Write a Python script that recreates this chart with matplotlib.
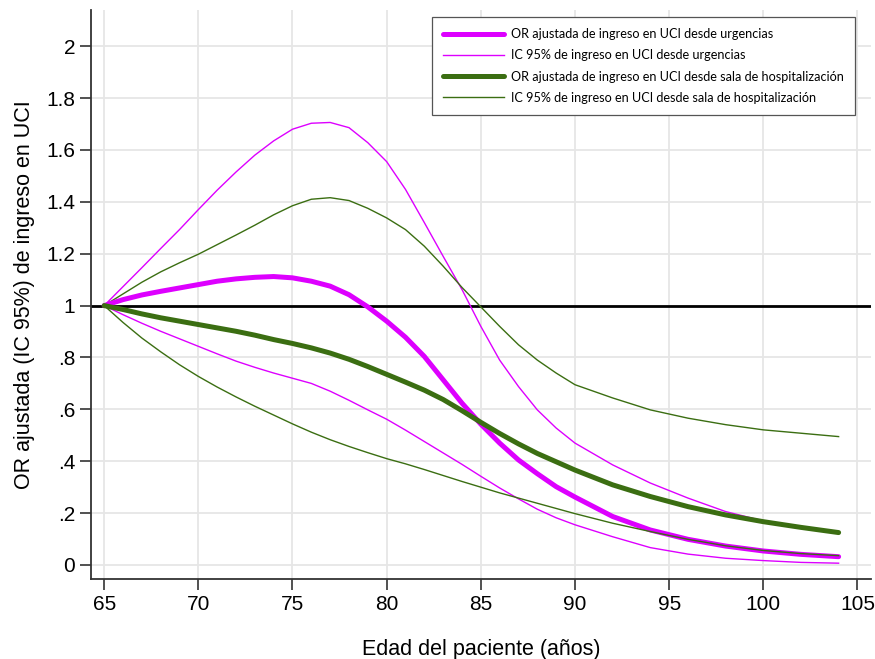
import numpy as np
import matplotlib.pyplot as plt

plt.rcParams['font.family'] = ['Liberation Sans', 'DejaVu Sans']

# edad del paciente (años)
edad = [65, 66, 67, 68, 69, 70, 71, 72, 73, 74, 75, 76, 77, 78, 79, 80, 81, 82, 83,
        84, 85, 86, 87, 88, 89, 90, 92, 94, 96, 98, 100, 102, 104]

# desde urgencias
or_urg = [1.0, 1.023, 1.041, 1.055, 1.068, 1.081, 1.094, 1.103, 1.109, 1.112, 1.107,
          1.094, 1.075, 1.042, 0.995, 0.94, 0.878, 0.804, 0.714, 0.624, 0.543, 0.47,
          0.405, 0.352, 0.302, 0.262, 0.187, 0.135, 0.099, 0.073, 0.054, 0.041, 0.032]
ic_urg_sup = [1.0, 1.073, 1.146, 1.22, 1.293, 1.37, 1.445, 1.515, 1.58, 1.635, 1.68,
              1.703, 1.706, 1.686, 1.628, 1.555, 1.448, 1.32, 1.19, 1.062, 0.92, 0.79,
              0.688, 0.598, 0.528, 0.47, 0.386, 0.316, 0.258, 0.206, 0.17, 0.145, 0.122]
ic_urg_inf = [1.0, 0.965, 0.932, 0.901, 0.872, 0.843, 0.814, 0.786, 0.762, 0.74, 0.72,
              0.70, 0.67, 0.635, 0.598, 0.562, 0.52, 0.476, 0.432, 0.388, 0.342, 0.297,
              0.255, 0.215, 0.182, 0.155, 0.109, 0.067, 0.042, 0.026, 0.017, 0.01, 0.007]

# desde sala de hospitalización
or_sala = [1.0, 0.985, 0.968, 0.953, 0.94, 0.927, 0.914, 0.901, 0.886, 0.869, 0.854,
           0.837, 0.817, 0.793, 0.765, 0.735, 0.705, 0.674, 0.638, 0.595, 0.55, 0.507,
           0.467, 0.43, 0.398, 0.366, 0.309, 0.264, 0.225, 0.193, 0.167, 0.145, 0.125]
ic_sala_sup = [1.0, 1.045, 1.09, 1.13, 1.165, 1.198, 1.235, 1.272, 1.31, 1.35, 1.385,
               1.41, 1.416, 1.405, 1.375, 1.338, 1.293, 1.229, 1.152, 1.07, 0.995, 0.92,
               0.849, 0.79, 0.74, 0.695, 0.644, 0.598, 0.566, 0.541, 0.521, 0.508, 0.495]
ic_sala_inf = [1.0, 0.935, 0.875, 0.822, 0.772, 0.727, 0.686, 0.648, 0.612, 0.578, 0.544,
               0.512, 0.483, 0.457, 0.433, 0.41, 0.39, 0.368, 0.345, 0.322, 0.30, 0.278,
               0.258, 0.238, 0.218, 0.198, 0.161, 0.129, 0.099, 0.074, 0.056, 0.044, 0.036]

ticks_x = [65, 70, 75, 80, 85, 90, 95, 100, 105]
ticks_y = [0, 0.2, 0.4, 0.6, 0.8, 1, 1.2, 1.4, 1.6, 1.8, 2]
ticks_y_lab = ['0', '.2', '.4', '.6', '.8', '1', '1.2', '1.4', '1.6', '1.8', '2']

magenta = '#DD00FF'
verde = '#3B6E12'

fig = plt.figure(figsize=(8.75, 6.59), dpi=100)
ax = fig.add_axes([0.104, 0.121, 0.891, 0.864])

ax.axhline(1, color='black', lw=2, zorder=2)
ax.plot(edad, or_urg, color=magenta, lw=3.6, solid_capstyle='round', zorder=4,
        label='OR ajustada de ingreso en UCI desde urgencias')
ax.plot(edad, ic_urg_sup, color=magenta, lw=1.0, zorder=3,
        label='IC 95% de ingreso en UCI desde urgencias')
ax.plot(edad, ic_urg_inf, color=magenta, lw=1.0, zorder=3)
ax.plot(edad, or_sala, color=verde, lw=3.6, solid_capstyle='round', zorder=4,
        label='OR ajustada de ingreso en UCI desde sala de hospitalización')
ax.plot(edad, ic_sala_sup, color=verde, lw=1.0, zorder=3,
        label='IC 95% de ingreso en UCI desde sala de hospitalización')
ax.plot(edad, ic_sala_inf, color=verde, lw=1.0, zorder=5)

ax.set_xlim(64.3, 105.7)
ax.set_ylim(-0.055, 2.14)
ax.set_xticks(ticks_x)
ax.set_yticks(ticks_y)
ax.set_yticklabels(ticks_y_lab)
ax.tick_params(labelsize=15, length=8, width=1.2, color='#333333')
ax.grid(color='#E6E6E6', lw=1.3)
ax.set_axisbelow(True)
for s in ['top', 'right']:
    ax.spines[s].set_visible(False)
for s in ['left', 'bottom']:
    ax.spines[s].set_linewidth(1.3)
    ax.spines[s].set_color('#333333')

ax.set_xlabel('Edad del paciente (años)', fontsize=15.5, labelpad=18)
ax.set_ylabel('OR ajustada (IC 95%) de ingreso en UCI', fontsize=15.5, labelpad=8)

leg = ax.legend(loc='upper right', bbox_to_anchor=(0.98, 0.9875), fancybox=False,
                framealpha=1, edgecolor='#555555', prop={'family': 'Lato', 'size': 9.1},
                handlelength=4.8, handletextpad=0.55, borderpad=0.9,
                labelspacing=0.72, borderaxespad=0)
leg.get_frame().set_linewidth(0.9)

plt.savefig('out.png', dpi=100)
